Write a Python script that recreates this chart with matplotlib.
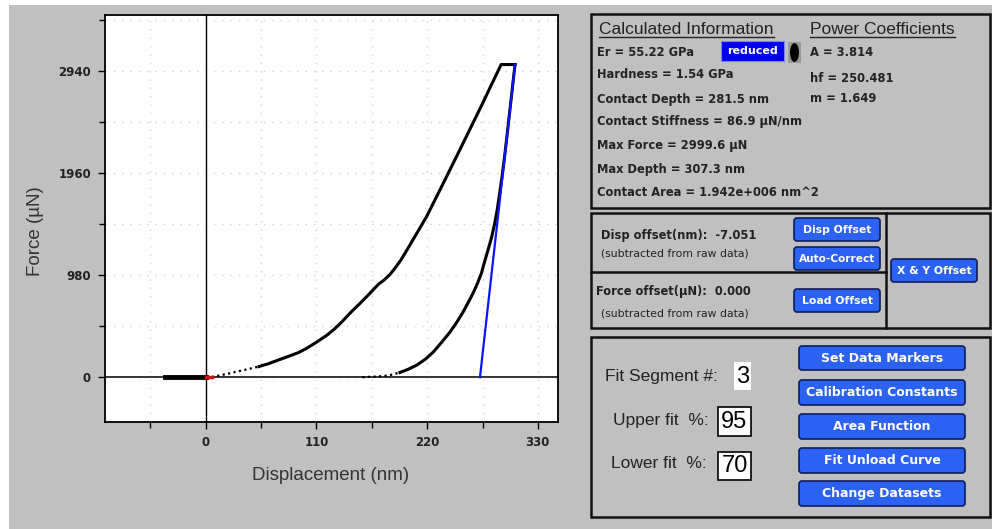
import numpy as np
import matplotlib.pyplot as plt
from matplotlib.patches import Rectangle, FancyBboxPatch, Ellipse

plt.rcParams['font.family'] = ['Liberation Sans', 'DejaVu Sans']

# --- curve data (displacement nm, force uN) ---
hold_disp = [-40, 0]
hold_force = [0, 0]
red_disp = [0, 6]
red_force = [0, 0]
load_disp = [6, 16.5, 25, 35, 45, 53, 62, 71.5, 80, 92, 100, 110, 120, 127,
             135, 145, 153, 160, 167, 172, 177, 183, 188, 194, 200, 210,
             219.4, 236, 252.4, 273.2, 293.5, 307.3]
load_force = [2, 22, 40, 62, 84, 102, 128, 162, 192, 235, 275, 335, 400, 454,
              528, 630, 705, 773, 845, 895, 930, 985, 1045, 1125, 1221, 1385,
              1540, 1860, 2180, 2590, 2999.6, 2999.6]
unload_disp = [307.3, 303, 299.5, 297, 294.5, 292, 289.5, 287, 284, 280.5,
               277, 273.9, 270, 265.6, 261, 255.7, 249, 242.5, 234, 226,
               218, 209.5, 201, 193, 184, 176, 165, 155]
unload_force = [2999.6, 2630, 2330, 2120, 1930, 1760, 1600, 1470, 1340, 1221,
                1105, 997, 900, 805, 720, 625, 520, 430, 330, 240,
                170, 115, 75, 45, 22, 10, 4, 0]
fit_disp = [272.5, 307.3]
fit_force = [0, 2999.6]

xticks = [0, 110, 220, 330]
yticks = [0, 980, 1960, 2940]

# --- panel text ---
calc_lines = ['Er = 55.22 GPa', 'Hardness = 1.54 GPa', 'Contact Depth = 281.5 nm',
              'Contact Stiffness = 86.9 µN/nm', 'Max Force = 2999.6 µN',
              'Max Depth = 307.3 nm', 'Contact Area = 1.942e+006 nm^2']
power_lines = ['A = 3.814', 'hf = 250.481', 'm = 1.649']
fit_buttons = ['Set Data Markers', 'Calibration Constants', 'Area Function',
               'Fit Unload Curve', 'Change Datasets']

W, H = 992, 529
GRAY = '#c0c0c0'
BTN = '#2c62f4'
BTN_EDGE = '#0d1d5c'
TXT = '#222222'
WIDE = ['DejaVu Sans']   # wider face, stands in for the letter-spaced GUI font

fig = plt.figure(figsize=(W / 100, H / 100), dpi=100)
fig.patch.set_facecolor('white')


def frac(x0, y0, x1, y1):
    return [x0 / W, 1 - y1 / H, (x1 - x0) / W, (y1 - y0) / H]


# overlay axes in pixel units for the GUI parts
ui = fig.add_axes([0, 0, 1, 1])
ui.set_xlim(0, W)
ui.set_ylim(H, 0)
ui.axis('off')
ui.add_patch(Rectangle((9, 5), W - 9, H - 5, fc=GRAY, ec='none'))

# --- plot ---
ax = fig.add_axes(frac(105, 15, 558, 422))
ax.set_facecolor('white')
ax.set_xlim(-100, 350)
ax.set_ylim(-430, 3475)
ax.set_xticks(xticks)
ax.set_xticks([-55, 55, 165, 275], minor=True)
ax.set_yticks(yticks)
ax.set_yticks([490, 1470, 2450, 3430], minor=True)
ax.grid(which='both', color='#d2d2d2', linestyle=(0, (1, 5)), lw=1)
ax.tick_params(which='major', direction='out', length=5, width=1, labelsize=8.5, pad=5)
ax.tick_params(which='minor', direction='out', length=4, width=1)
for lbl in ax.get_xticklabels() + ax.get_yticklabels():
    lbl.set_fontweight('bold')
    lbl.set_family(WIDE)
    lbl.set_color(TXT)
for s in ax.spines.values():
    s.set_linewidth(1.3)
ax.axhline(0, color='black', lw=1.1, zorder=2)
ax.axvline(0, color='black', lw=1.0, zorder=2)

ld = np.array(load_disp)
lf = np.array(load_force)
ud = np.array(unload_disp)
uf = np.array(unload_force)
# sparse (dotted) toe regions, solid elsewhere
ax.plot(ld[ld <= 55], lf[ld <= 55], color='black', lw=1.6, ls=(0, (1, 1.5)), zorder=3)
ax.plot(ld[ld >= 53], lf[ld >= 53], color='black', lw=2.2, zorder=3,
        solid_joinstyle='round')
ax.plot(ud[ud >= 190], uf[ud >= 190], color='black', lw=2.2, zorder=3,
        solid_joinstyle='round')
ax.plot(ud[ud <= 202], uf[ud <= 202], color='black', lw=1.6, ls=(0, (1, 1.5)), zorder=3)
ax.plot(hold_disp, hold_force, color='black', lw=3.5, zorder=4)
ax.plot(red_disp, red_force, color='#d01010', lw=2.5, zorder=4)
ax.plot(fit_disp, fit_force, color='#0a14ff', lw=1.6, zorder=5)

ui.text(331, 476, 'Displacement (nm)', ha='center', va='center', fontsize=13.5, color='#333333')
ui.text(35, 231, 'Force (µN)', ha='center', va='center', rotation=90, fontsize=13.5, color='#333333')


def box(x0, y0, x1, y1):
    ui.add_patch(Rectangle((x0, y0), x1 - x0, y1 - y0, fc='none', ec='#111111', lw=1.8))


def button(x0, y0, x1, y1, label, size=8.5):
    ui.add_patch(FancyBboxPatch((x0 + 3, y0 + 3), x1 - x0 - 6, y1 - y0 - 6,
                                boxstyle='round,pad=3', fc=BTN, ec=BTN_EDGE, lw=1.2))
    ui.text((x0 + x1) / 2, (y0 + y1) / 2 + 0.5, label, ha='center', va='center',
            color='white', fontsize=size, fontweight='bold', family=WIDE)


# --- box 1: calculated information ---
box(591, 14, 990, 208)
t1 = ui.text(599, 29, 'Calculated Information', ha='left', va='center', fontsize=12.5, color=TXT)
t2 = ui.text(810, 29, 'Power Coefficients', ha='left', va='center', fontsize=12.5, color=TXT)
calc_y = [52, 74, 99, 121, 146, 170, 193]
for s, y in zip(calc_lines, calc_y):
    ui.text(597, y, s, ha='left', va='center', fontsize=8.3, fontweight='bold', color=TXT, family=WIDE)
for s, y in zip(power_lines, [52, 78, 99]):
    ui.text(810, y, s, ha='left', va='center', fontsize=8.3, fontweight='bold', color=TXT, family=WIDE)
ui.add_patch(Rectangle((721, 41), 63, 20, fc='#0000f0', ec='#8080ff', lw=0.8))
ui.text(752.5, 51, 'reduced', ha='center', va='center', color='white', fontsize=8,
        fontweight='bold', family=WIDE)
ui.add_patch(Rectangle((788, 42), 13, 21, fc='#9a9a9a', ec='none'))
ui.add_patch(Ellipse((794.5, 52.5), 9, 19, fc='black', ec='none'))

# --- box 2: offsets ---
box(591, 213, 990, 328)
ui.plot([886, 886], [213, 328], color='#111111', lw=1.8)
ui.plot([591, 886], [272, 272], color='#111111', lw=1.8)
ui.text(601, 235, 'Disp offset(nm):  -7.051', ha='left', va='center', fontsize=8.3,
        fontweight='bold', color=TXT, family=WIDE)
ui.text(601, 253, '(subtracted from raw data)', ha='left', va='center', fontsize=7.8,
        color=TXT, family=WIDE)
ui.text(596, 292, 'Force offset(µN):  0.000', ha='left', va='center', fontsize=8.3,
        fontweight='bold', color=TXT, family=WIDE)
ui.text(601, 313, '(subtracted from raw data)', ha='left', va='center', fontsize=7.8,
        color=TXT, family=WIDE)
button(794, 218, 880, 241, 'Disp Offset', 7.8)
button(794, 247, 880, 270, 'Auto-Correct', 7.6)
button(794, 289, 880, 312, 'Load Offset', 7.8)
button(891, 259, 977, 282, 'X & Y Offset', 7.8)

# --- box 3: fit settings ---
box(591, 337, 990, 517)
ui.text(605, 376, 'Fit Segment #:', ha='left', va='center', fontsize=12.5, color=TXT)
ui.text(613, 421, 'Upper fit  %:', ha='left', va='center', fontsize=12.5, color=TXT)
ui.text(611, 464, 'Lower fit  %:', ha='left', va='center', fontsize=12.5, color=TXT)
ui.add_patch(Rectangle((734, 362), 17, 28, fc='white', ec='none'))
ui.text(742.5, 377, '3', ha='center', va='center', fontsize=17, color='black')
ui.add_patch(Rectangle((718, 407), 33, 29, fc='white', ec='black', lw=1.2))
ui.text(734.5, 422, '95', ha='center', va='center', fontsize=17, color='black')
ui.add_patch(Rectangle((718, 452), 33, 28, fc='white', ec='black', lw=1.2))
ui.text(734.5, 466, '70', ha='center', va='center', fontsize=17, color='black')
btn_y = [(346, 370), (380, 405), (414, 439), (448, 473), (481, 506)]
for s, (y0, y1) in zip(fit_buttons, btn_y):
    button(799, y0, 965, y1, s, 9)

# underline the two headings
fig.canvas.draw()
r = fig.canvas.get_renderer()
inv = ui.transData.inverted()
for t in (t1, t2):
    bb = t.get_window_extent(r)
    (x0, _), (x1, _) = inv.transform([[bb.x0, bb.y0], [bb.x1, bb.y1]])
    ui.plot([x0, x1], [37, 37], color=TXT, lw=1)

fig.savefig('out.png', dpi=100)
